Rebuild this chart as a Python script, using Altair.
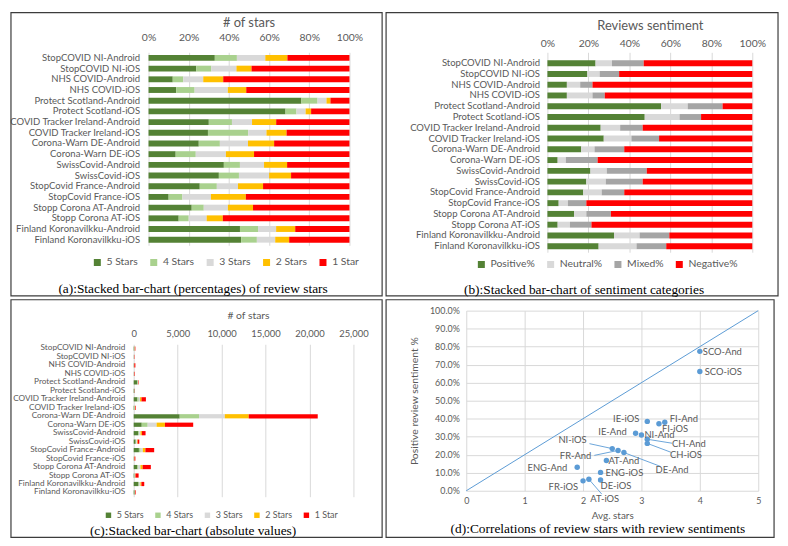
import altair as alt
import pandas as pd

# ---------------- data ----------------
apps = ["StopCOVID NI-Android", "StopCOVID NI-iOS", "NHS COVID-Android", "NHS COVID-iOS",
        "Protect Scotland-Android", "Protect Scotland-iOS", "COVID Tracker Ireland-Android",
        "COVID Tracker Ireland-iOS", "Corona-Warn DE-Android", "Corona-Warn DE-iOS",
        "SwissCovid-Android", "SwissCovid-iOS", "StopCovid France-Android", "StopCovid France-iOS",
        "Stopp Corona AT-Android", "Stopp Corona AT-iOS", "Finland Koronavilkku-Android",
        "Finland Koronavilkku-iOS"]

star_levels = ["5 Stars", "4 Stars", "3 Stars", "2 Stars", "1 Star"]
stars5 = [63, 19, 23, 15, 426, 75, 417, 68, 5235, 914, 506, 224, 594, 19, 419, 84, 546, 106]
stars4 = [21, 6, 10, 10, 45, 6, 160, 46, 2199, 677, 108, 64, 198, 13, 117, 28, 108, 18]
stars3 = [27, 10, 19, 18, 25, 5, 139, 21, 2932, 1016, 162, 96, 245, 27, 234, 50, 108, 21]
stars2 = [21, 6, 19, 10, 11, 3, 167, 23, 2722, 948, 155, 70, 291, 33, 244, 45, 114, 16]
stars1 = [59, 39, 120, 56, 53, 21, 507, 72, 7852, 3215, 419, 186, 1002, 98, 936, 353, 324, 69]

sent_levels = ["Positive%", "Neutral%", "Mixed%", "Negative%"]
positive = [23.5, 19.5, 9.5, 9.5, 55.5, 47.5, 26, 27.5, 16.5, 5, 21, 19, 17.5, 5.5, 13, 5, 32.5, 25]
neutral = [8, 6, 6.5, 12.5, 13, 17, 9.5, 13.5, 6.5, 4, 8, 9.5, 9, 4.5, 6, 6, 12.5, 18.5]
mixed = [15.5, 9.5, 6, 6, 17, 10.5, 11, 13.5, 14.5, 15.5, 19.5, 18, 11, 9, 12, 10.5, 14.5, 14.5]
negative = [53, 65, 78, 72, 14.5, 25, 53.5, 45.5, 62.5, 75.5, 51.5, 53.5, 62.5, 81, 69, 78.5, 40.5, 42]

codes = ["SCO-And", "SCO-iOS", "IE-iOS", "FI-iOS", "FI-And", "IE-And", "NI-And", "CH-And", "CH-iOS",
         "NI-iOS", "FR-And", "DE-And", "AT-And", "ENG-And", "ENG-iOS", "FR-iOS", "AT-iOS", "DE-iOS"]
avg_stars = [4.0, 4.0, 3.1, 3.3, 3.4, 2.9, 3.0, 3.1, 3.1, 2.5, 2.6, 2.7, 2.4, 1.9, 2.3, 2.0, 2.1, 2.3]
pos_sent = [0.774, 0.662, 0.385, 0.372, 0.380, 0.319, 0.310, 0.286, 0.263, 0.234, 0.224, 0.212,
            0.168, 0.131, 0.102, 0.055, 0.064, 0.060]

diag_x = [0, 5]
diag_y = [0.0, 1.0]

# ---------------- styles ----------------
FONT = "Lato"
GREY = "#595959"
GRID = "#D9D9D9"
STAR_COLORS = ["#548235", "#A9D18E", "#D9D9D9", "#FFC000", "#FF0000"]
SENT_COLORS = ["#548235", "#D9D9D9", "#A5A5A5", "#FF0000"]
BLUE = "#5B9BD5"
SERIF = "Liberation Serif"

star_rows = []
for i, app in enumerate(apps):
    for k, (lvl, arr) in enumerate(zip(star_levels, [stars5, stars4, stars3, stars2, stars1])):
        star_rows.append({"app": app, "level": lvl, "count": arr[i], "ord": k})
stars_df = pd.DataFrame(star_rows)

sent_rows = []
for i, app in enumerate(apps):
    for k, (lvl, arr) in enumerate(zip(sent_levels, [positive, neutral, mixed, negative])):
        sent_rows.append({"app": app, "sent": lvl, "pct": arr[i], "ord": k})
sent_df = pd.DataFrame(sent_rows)

one = pd.DataFrame({"k": [0]})


def frame(x1, x2, y1, y2):
    return alt.Chart(one).mark_rect(fillOpacity=0, stroke="#3c3c3c", strokeWidth=1.2).encode(
        x=alt.value(x1), x2=alt.value(x2), y=alt.value(y1), y2=alt.value(y2))


def caption(text, x, y):
    return alt.Chart(one).mark_text(font=SERIF, fontSize=13.5, color="#000000").encode(
        x=alt.value(x), y=alt.value(y), text=alt.value(text))


def head(text, x, y, size):
    return alt.Chart(one).mark_text(fontSize=size, color=GREY).encode(
        x=alt.value(x), y=alt.value(y), text=alt.value(text))


def cat_axis(size, pad, offset=0):
    return alt.Axis(labelFontSize=size, labelColor=GREY, labelPadding=pad, labelLimit=400,
                    ticks=False, domain=False, grid=False, offset=offset)


def top_axis(values, size, pad, fmt=None, expr=None):
    kw = dict(orient="top", values=values, labelFontSize=size, labelColor=GREY, labelPadding=pad,
              labelFlush=False, ticks=False, tickSize=0, domain=False, grid=True, gridColor=GRID)
    if fmt:
        kw["format"] = fmt
    if expr:
        kw["labelExpr"] = expr
    return alt.Axis(**kw)


def legend(x, y, ncol, ssize, fsize, cpad):
    return alt.Legend(title=None, orient="none", legendX=x, legendY=y, direction="horizontal",
                      columns=ncol, symbolType="square", symbolSize=ssize, symbolStrokeWidth=0,
                      labelFontSize=fsize, labelColor=GREY, columnPadding=cpad)


# ---------------- panel (a) ----------------
a_bars = alt.Chart(stars_df).mark_bar().encode(
    y=alt.Y("app:N", sort=apps, title=None,
            scale=alt.Scale(paddingInner=0.45, paddingOuter=0.25), axis=cat_axis(9.6, 9)),
    x=alt.X("count:Q", stack="normalize", title=None,
            axis=top_axis([0, 0.2, 0.4, 0.6, 0.8, 1], 10.5, 9.5, fmt="%")),
    color=alt.Color("level:N", scale=alt.Scale(domain=star_levels, range=STAR_COLORS),
                    legend=legend(-57, 207, 5, 50, 10.5, 10)),
    order=alt.Order("ord:Q"),
)
panel_a = alt.layer(
    a_bars, frame(-139, 236, -40, 246),
    head("# of stars", 101.5, -30, 13),
    caption("(a):Stacked bar-chart (percentages) of review stars", 45, 239),
).properties(width=203, height=195)

# ---------------- panel (b) ----------------
b_bars = alt.Chart(sent_df).mark_bar().encode(
    y=alt.Y("app:N", sort=apps, title=None,
            scale=alt.Scale(paddingInner=0.45, paddingOuter=0.51, align=0.72), axis=cat_axis(9.6, 8)),
    x=alt.X("pct:Q", stack="zero", title=None, scale=alt.Scale(domain=[0, 100]),
            axis=top_axis([0, 20, 40, 60, 80, 100], 10.5, 3.5, expr="datum.value + '%'")),
    color=alt.Color("sent:N", scale=alt.Scale(domain=sent_levels, range=SENT_COLORS),
                    legend=legend(-72, 209, 4, 50, 10.5, 10)),
    order=alt.Order("ord:Q"),
)
panel_b = alt.layer(
    b_bars, frame(-163, 233, -40, 246),
    head("Reviews sentiment", 104, -27, 13),
    caption("(b):Stacked bar-chart of sentiment categories", 37, 240),
).properties(width=207, height=202)

# ---------------- panel (c) ----------------
c_bars = alt.Chart(stars_df).mark_bar().encode(
    y=alt.Y("app:N", sort=apps, title=None,
            scale=alt.Scale(paddingInner=0.5, paddingOuter=0.25), axis=cat_axis(8.3, 9, offset=15)),
    x=alt.X("count:Q", stack="zero", title=None,
            scale=alt.Scale(domain=[0, 25000], range=[-15, 207]),
            axis=top_axis([0, 5000, 10000, 15000, 20000, 25000], 9.5, 6, fmt=",.0f")),
    color=alt.Color("level:N", scale=alt.Scale(domain=star_levels, range=STAR_COLORS),
                    legend=legend(-45, 168, 5, 30, 9, 9)),
    order=alt.Order("ord:Q"),
)
panel_c = alt.layer(
    c_bars, frame(-139, 236, -45, 195),
    head("# of stars", 101, -29, 10.5),
    caption("(c):Stacked bar-chart (absolute values)", 45, 189),
).properties(width=207, height=154)

# ---------------- panel (d) ----------------
W_D, H_D = 295, 182
PX_X = W_D / 5.0
PX_Y = H_D / 1.0

# (align, dx px, dy px, leader end dx px, leader end dy px)
label_style = {
    "SCO-And": ("left", 3, 1, None, None),
    "SCO-iOS": ("left", 5, 1, None, None),
    "IE-iOS": ("right", -8, -2, None, None),
    "FI-iOS": ("left", 3, 5, None, None),
    "FI-And": ("left", 5, -3, None, None),
    "IE-And": ("right", -9, -1, None, None),
    "NI-And": ("left", 3, 0, None, None),
    "CH-And": ("left", 25, 5, 25, 4),
    "CH-iOS": ("left", 23, 12, 24, 9),
    "NI-iOS": ("right", -26, -9, -23, -5),
    "FR-And": ("right", -27, 6, -24, 5),
    "DE-And": ("left", 32, 18, 37, 14),
    "AT-And": ("left", 2, 1, None, None),
    "ENG-And": ("right", -10, 1, None, None),
    "ENG-iOS": ("left", 5, 1, None, None),
    "FR-iOS": ("right", -5, 6, None, None),
    "AT-iOS": ("center", 16, 20, 13, 15),
    "DE-iOS": ("left", 0, 6, None, None),
}

sc_rows = []
for c, x, y in zip(codes, avg_stars, pos_sent):
    al, dx, dy, lx, ly = label_style[c]
    row = {"code": c, "avg": x, "pos": y, "align": al,
           "lx": x + dx / PX_X, "ly": y - dy / PX_Y,
           "has_lead": lx is not None,
           "lead_x": x + (lx if lx is not None else 0) / PX_X,
           "lead_y": y - (ly if ly is not None else 0) / PX_Y}
    sc_rows.append(row)
sc_df = pd.DataFrame(sc_rows)
diag_df = pd.DataFrame({"dx": diag_x, "dy": diag_y})

X_AX = alt.Axis(values=[0, 1, 2, 3, 4, 5], labelFontSize=9, labelColor=GREY, labelPadding=6,
                labelFlush=False, ticks=False, domain=False, grid=True, gridColor=GRID,
                titleFontSize=10, titleFontWeight="normal", titleColor=GREY, titlePadding=5)
Y_AX = alt.Axis(values=[i / 10 for i in range(11)], format=".1%", labelFontSize=9, labelColor=GREY,
                labelPadding=7, labelFlush=False, ticks=False, domain=False, grid=True,
                gridColor=GRID, titleFontSize=10.5, titleFontWeight="normal", titleColor=GREY,
                titlePadding=10)
X_SC = alt.Scale(domain=[0, 5], nice=False)
Y_SC = alt.Scale(domain=[0, 1], nice=False)


def sx(f):
    return alt.X(f, type="quantitative", scale=X_SC, axis=X_AX, title="Avg. stars")


def sy(f):
    return alt.Y(f, type="quantitative", scale=Y_SC, axis=Y_AX, title="Positive review sentiment %")


d_diag = alt.Chart(diag_df).mark_line(color=BLUE, strokeWidth=1).encode(x=sx("dx"), y=sy("dy"))
d_lead = alt.Chart(sc_df).transform_filter("datum.has_lead").mark_rule(
    color=BLUE, strokeWidth=0.9).encode(x=sx("avg"), y=sy("pos"),
                                        x2=alt.X2("lead_x"), y2=alt.Y2("lead_y"))
d_pts = alt.Chart(sc_df).mark_circle(size=30, color=BLUE, opacity=1).encode(x=sx("avg"), y=sy("pos"))
d_text = [
    alt.Chart(sc_df).transform_filter(alt.datum.align == al).mark_text(
        align=al, baseline="middle", fontSize=9.5, color=GREY).encode(
        x=sx("lx"), y=sy("ly"), text="code:N")
    for al in ["left", "right", "center"]
]
panel_d = alt.layer(
    d_diag, d_lead, d_pts, *d_text, frame(-81, 311, -11, 229),
    caption("(d):Correlations of review stars with review sentiments", 133, 221),
).properties(width=W_D, height=H_D)

chart = alt.concat(
    panel_a, panel_b, panel_c, panel_d,
    columns=2, spacing=0, align="none", bounds="full",
).resolve_scale(
    color="independent", x="independent", y="independent"
).properties(padding=0).configure(font=FONT).configure_view(stroke="transparent")

chart.save("out.html", embed_options={"renderer": "svg", "actions": False})
